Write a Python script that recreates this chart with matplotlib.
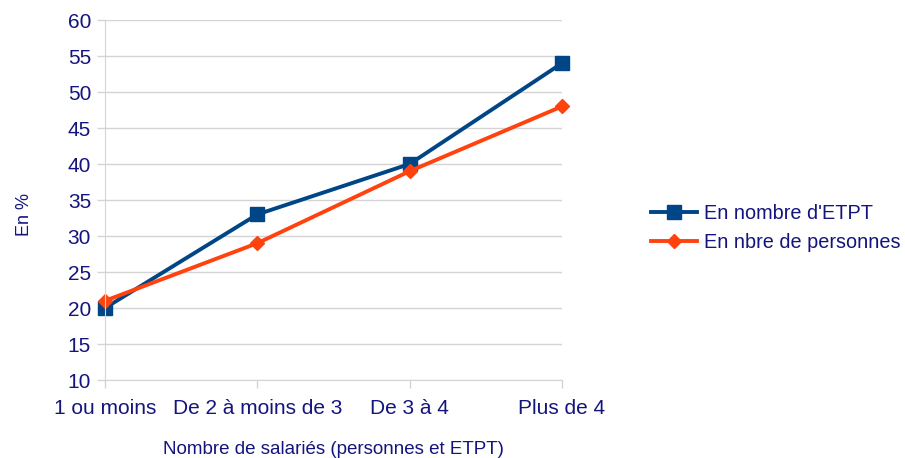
import numpy as np
import matplotlib.pyplot as plt

categories = ["1 ou moins", "De 2 à moins de 3", "De 3 à 4", "Plus de 4"]
etpt = [20, 33, 40, 54]
personnes = [21, 29, 39, 48]

plt.rcParams['font.family'] = ['Liberation Sans', 'DejaVu Sans']
txt = "#14147f"
grid = "#d4d4d4"

fig = plt.figure(figsize=(9.05, 4.58), dpi=100)
ax = fig.add_axes([105 / 905, 78 / 458, 457 / 905, 360 / 458])

x = np.arange(len(categories))
ax.plot(x, etpt, color="#004586", lw=2.8, marker="s", ms=9.5, label="En nombre d'ETPT")
ax.plot(x, personnes, color="#ff420e", lw=2.8, marker="D", ms=7, label="En nbre de personnes")

ax.set_xlim(0, 3)
ax.set_ylim(10, 60)
ax.set_yticks(range(10, 61, 5))
ax.set_xticks(x)
ax.set_xticklabels(categories)
ax.grid(axis="y", color=grid, lw=1)
ax.set_axisbelow(True)
for s in ["top", "right"]:
    ax.spines[s].set_visible(False)
for s in ["left", "bottom"]:
    ax.spines[s].set_color(grid)
ax.tick_params(colors=grid, labelcolor=txt, labelsize=15, length=6, width=1)
ax.tick_params(axis="x", pad=8)
ax.tick_params(axis="y", pad=4)
ax.set_xlabel("Nombre de salariés (personnes et ETPT)", color=txt, fontsize=13.5, labelpad=16)
ax.set_ylabel("En %", color=txt, fontsize=13, labelpad=25)
ax.yaxis.label.set_y(0.46)
for lbl in ax.get_xticklabels():
    lbl.set_clip_on(False)
for ln in ax.lines:
    ln.set_clip_on(False)

leg = fig.legend(loc="upper left", bbox_to_anchor=(633 / 905, 1 - 186 / 458), frameon=False,
                 fontsize=14.3, handlelength=2.3, labelspacing=0.53, handletextpad=0.35)
for t in leg.get_texts():
    t.set_color(txt)

fig.savefig("out.png", dpi=100)
